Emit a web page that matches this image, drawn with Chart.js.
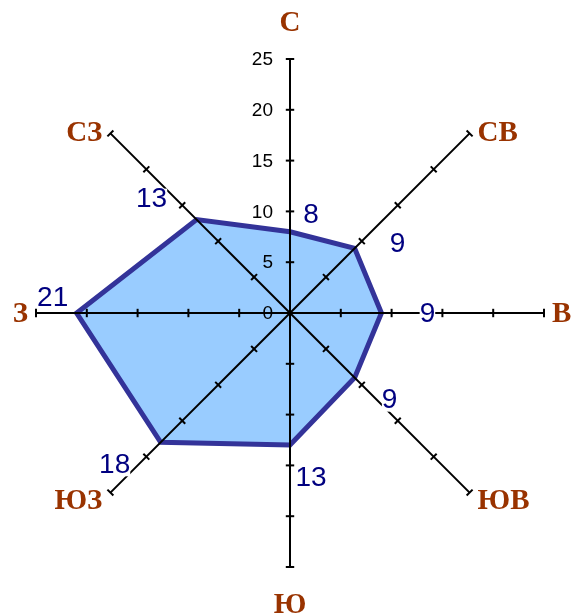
<!DOCTYPE html>
<html>
<head>
<meta charset="utf-8">
<script src="https://cdn.jsdelivr.net/npm/chart.js@4"></script>
<style>
  html, body { margin: 0; padding: 0; background: #ffffff; }
  #wrap { width: 574px; height: 614px; position: relative; }
</style>
</head>
<body>
<div id="wrap"><canvas id="c"></canvas></div>
<script>
// ---- data ----
const directions = ['С', 'СВ', 'В', 'ЮВ', 'Ю', 'ЮЗ', 'З', 'СЗ'];
const windValues = [8, 9, 9, 9, 13, 18, 21, 13];
const scaleMin = 0;
const scaleMax = 25;
const scaleStep = 5;

// ---- custom drawing plugin (axis ticks, tick labels, direction labels, value labels) ----
const roseDecor = {
  id: 'roseDecor',
  afterDraw(chart, args, opts) {
    const ctx = chart.ctx;
    const s = chart.scales.r;
    const cx = s.xCenter, cy = s.yCenter;
    const n = chart.data.labels.length;
    ctx.save();

    // tick marks on each axis
    ctx.strokeStyle = '#000';
    ctx.lineWidth = 2;
    for (let i = 0; i < n; i++) {
      const ang = s.getIndexAngle(i) - Math.PI / 2;
      const px = -Math.sin(ang), py = Math.cos(ang);
      s.ticks.forEach(t => {
        if (t.value === scaleMin) return;
        const p = s.getPointPositionForValue(i, t.value);
        ctx.beginPath();
        ctx.moveTo(p.x - px * opts.tickLen, p.y - py * opts.tickLen);
        ctx.lineTo(p.x + px * opts.tickLen, p.y + py * opts.tickLen);
        ctx.stroke();
      });
    }

    // tick labels on the north axis
    ctx.fillStyle = '#000';
    ctx.font = opts.tickFont;
    ctx.textAlign = 'right';
    ctx.textBaseline = 'middle';
    s.ticks.forEach(t => {
      const p = s.getPointPositionForValue(0, t.value);
      ctx.fillText(t.label, p.x - opts.tickLabelGap, p.y + 1);
    });

    // direction labels
    ctx.fillStyle = opts.dirColor;
    ctx.font = opts.dirFont;
    ctx.textBaseline = 'middle';
    for (let i = 0; i < n; i++) {
      const p = s.getPointPosition(i, s.drawingArea);
      const dx = p.x - cx, dy = p.y - cy;
      let x = p.x, y = p.y;
      if (Math.abs(dx) < 1) {
        ctx.textAlign = 'center';
        y += Math.sign(dy) * opts.dirPadV;
      } else {
        ctx.textAlign = dx > 0 ? 'left' : 'right';
        x += Math.sign(dx) * opts.dirPadH;
        if (Math.abs(dy) > 1) y += dy > 0 ? 7 : -2;
      }
      ctx.fillText(chart.data.labels[i], x, y + 2);
    }

    // value labels (with a tight white backing, as in the original)
    const ds = chart.data.datasets[0];
    ctx.font = opts.valFont;
    ctx.textAlign = 'center';
    ctx.textBaseline = 'middle';
    ds.data.forEach((v, i) => {
      const p = s.getPointPositionForValue(i, v);
      const off = opts.valOffsets[i];
      const tx = p.x + off[0], ty = p.y + off[1] + 1;
      const w = ctx.measureText(String(v)).width;
      ctx.fillStyle = '#ffffff';
      ctx.fillRect(tx - w / 2, ty - 11, w, 22);
      ctx.fillStyle = opts.valColor;
      ctx.fillText(String(v), tx, ty);
    });

    ctx.restore();
  }
};

new Chart(document.getElementById('c'), {
  type: 'radar',
  data: {
    labels: directions,
    datasets: [{
      data: windValues,
      backgroundColor: '#99CCFF',
      borderColor: '#333399',
      borderWidth: 5,
      borderJoinStyle: 'miter',
      pointRadius: 0,
      pointHoverRadius: 0,
      fill: true
    }]
  },
  options: {
    responsive: true,
    maintainAspectRatio: false,
    animation: false,
    events: [],
    layout: { padding: { left: 36, right: 30, top: 59, bottom: 47 } },
    plugins: {
      legend: { display: false },
      tooltip: { enabled: false },
      roseDecor: {
        tickLen: 4.2,
        tickFont: '19px "Liberation Sans", Arial, sans-serif',
        tickLabelGap: 17,
        dirColor: '#993300',
        dirFont: 'bold 29px "Liberation Serif", "Times New Roman", serif',
        dirPadV: 37,
        dirPadH: 8,
        valColor: '#000080',
        valFont: '28px "Liberation Sans", Arial, sans-serif',
        valOffsets: [[21, -17], [43, -5], [46, 0], [35, 22], [21, 32], [-46, 22], [-24, -16], [-45, -21]]
      }
    },
    scales: {
      r: {
        min: scaleMin,
        max: scaleMax,
        beginAtZero: true,
        ticks: { stepSize: scaleStep, display: false, z: 1 },
        grid: { display: false, z: 1 },
        angleLines: { display: true, color: '#000', lineWidth: 2 },
        pointLabels: { display: false }
      }
    }
  },
  plugins: [roseDecor]
});
</script>
</body>
</html>
